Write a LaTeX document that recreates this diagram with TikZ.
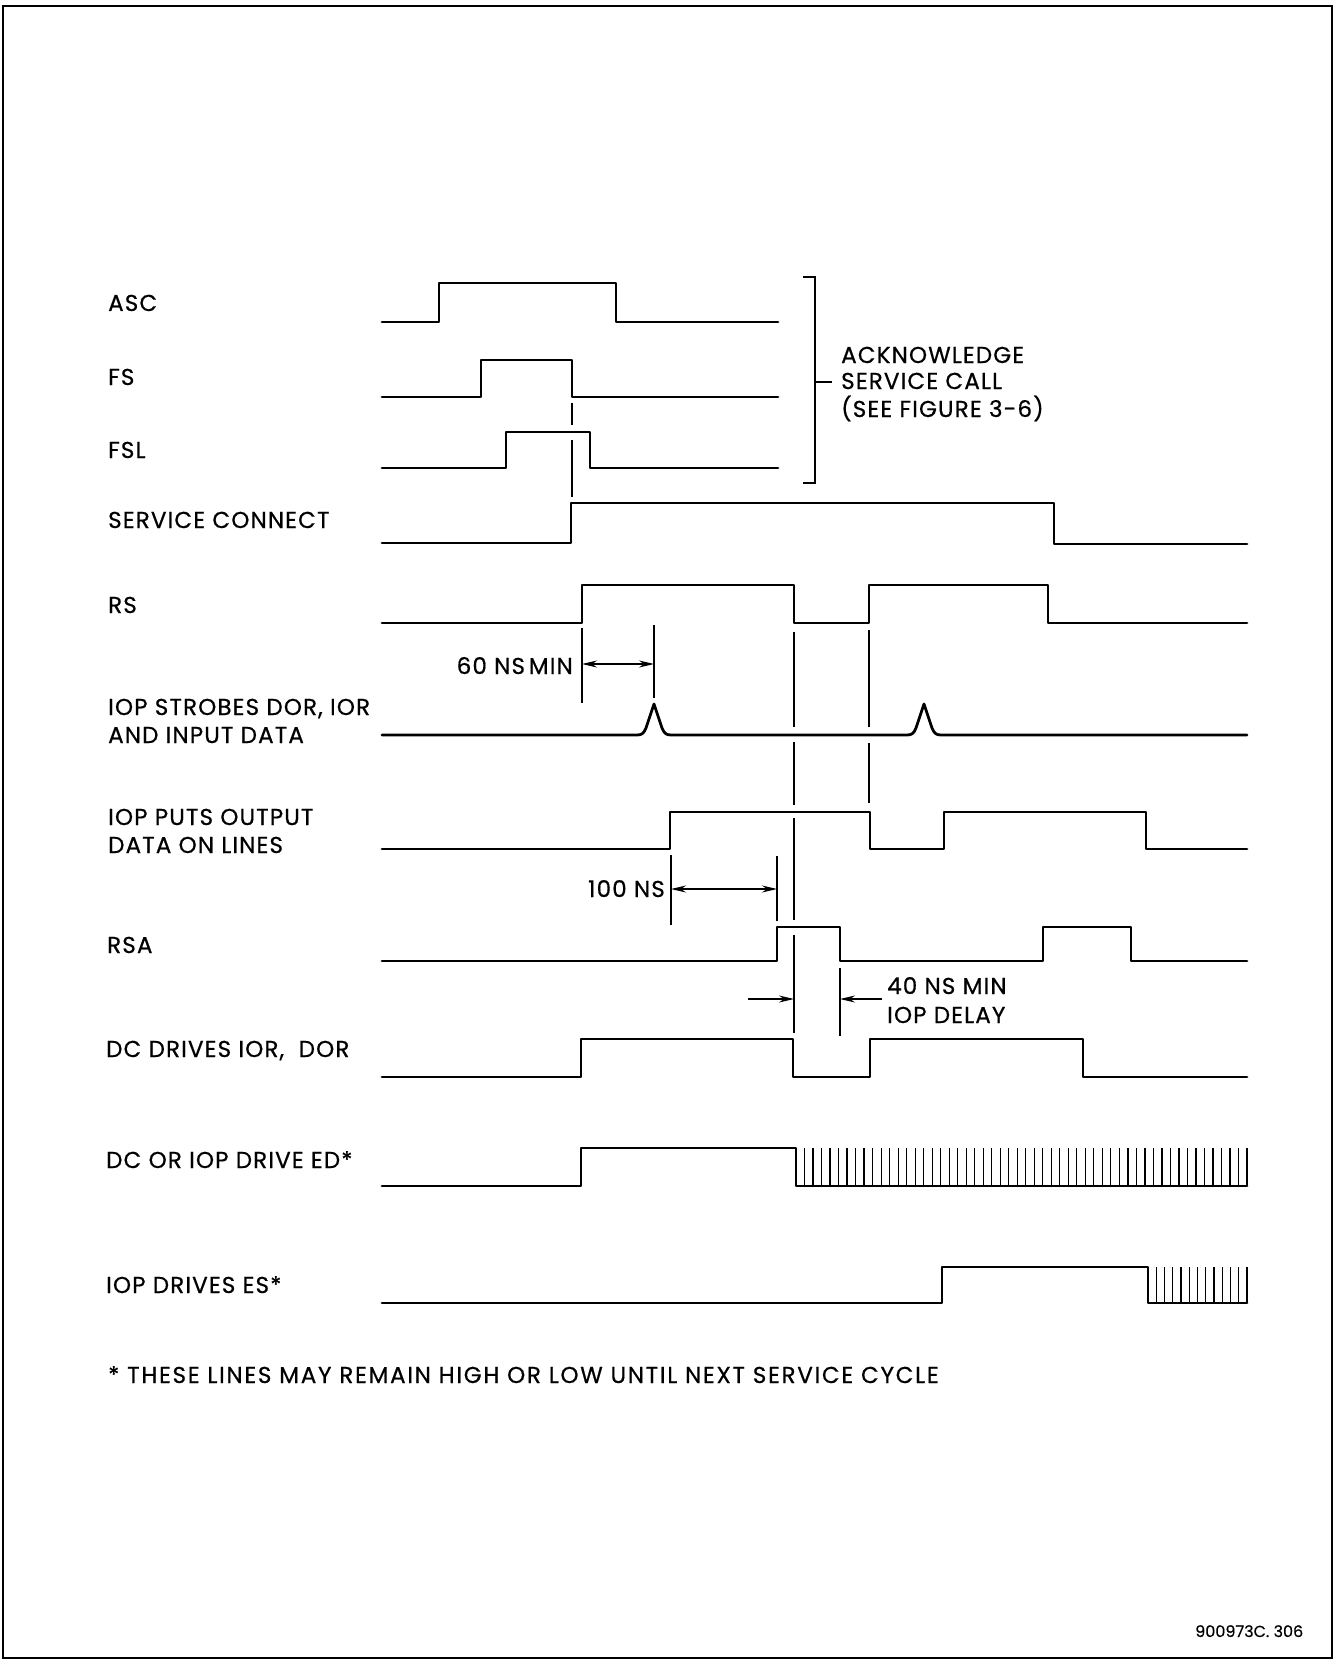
\documentclass[tikz,border=0pt]{standalone}
\usepackage{fontspec}
\setmainfont{Poppins}
\newfontfamily\lblff{Poppins}[FakeBold=0.6, LetterSpace=5]
\newfontfamily\noteff{Poppins}[FakeBold=0.6, LetterSpace=7.5]
\newfontfamily\numff{Poppins}[FakeBold=0.4]
\usetikzlibrary{arrows.meta}
\newcommand{\lblfont}{\lblff\fontsize{23}{27}\selectfont}
\newcommand{\notefont}{\noteff\fontsize{23}{27}\selectfont}
\newcommand{\smallfont}{\numff\fontsize{16}{19}\selectfont}
\tikzset{
  sig/.style={line width=2.8pt, line join=round, line cap=round},
  guide/.style={line width=1.3pt},
  hatchline/.style={line width=1.2pt},
  lbl/.style={font=\lblfont, anchor=base west, inner sep=0pt},
  lble/.style={font=\lblfont, anchor=base east, inner sep=0pt},
  dimtwo/.style={guide, {Stealth[length=15pt,width=7pt]}-{Stealth[length=15pt,width=7pt]}},
  dimone/.style={guide, -{Stealth[length=15pt,width=7pt]}},
  frame/.style={line width=2pt}
}
\begin{document}
\begin{tikzpicture}[x=1pt,y=-1pt]
\useasboundingbox (0,0) rectangle (1335,1661);
\draw[frame] (3,6) rectangle (1332,1658);

% labels
\node[lbl] (lASC) at (108,311) {ASC};
\node[lbl] (lFS) at (108,385) {FS};
\node[lbl] (lFSL) at (108,458) {FSL};
\node[lbl] (lSC) at (108,528) {SERVICE CONNECT};
\node[lbl] (lRS) at (108,613) {RS};
\node[lbl] (lST1) at (108,715) {IOP STROBES DOR, IOR};
\node[lbl] (lST2) at (108,743) {AND INPUT DATA};
\node[lbl] (lPU1) at (108,825) {IOP PUTS OUTPUT};
\node[lbl] (lPU2) at (108,853) {DATA ON LINES};
\node[lbl] (lRSA) at (107,953) {RSA};
\node[lbl] (lDC) at (106,1057) {DC DRIVES IOR,\ \ DOR};
\node[lbl] (lED) at (106,1168) {DC OR IOP DRIVE ED*};
\node[lbl] (lES) at (106,1293) {IOP DRIVES ES*};
\node[lbl, font=\notefont] (lNote) at (108,1383) {* THESE LINES MAY REMAIN HIGH OR LOW UNTIL NEXT SERVICE CYCLE};
\node[lbl, font=\smallfont] (lNum) at (1195,1637) {900973C. 306};

% bracket
\coordinate (bt) at (815,277);
\coordinate (bb) at (815,483);
\coordinate (bm) at (815,382);
\draw[guide] ([xshift=-12pt]bt) -- (bt) -- (bb) -- ([xshift=-12pt]bb);
\draw[guide] (bm) -- ++(17,0);
\node[lbl] (ack1) at (841,363) {ACKNOWLEDGE};
\node[lbl] (ack2) at (841,389) {SERVICE CALL};
\node[lbl] (ack3) at (841,417) {(SEE FIGURE 3-6)};

% signals
\draw[sig] (382,322) -- (439,322) -- (439,283) -- (616,283) -- (616,322) -- (778,322);
\draw[sig] (382,397) -- (481,397) -- (481,360) -- (572,360) -- (572,397) -- (778,397);
\draw[sig] (382,468) -- (506,468) -- (506,432) -- (590,432) -- (590,468) -- (778,468);
\draw[sig] (382,543) -- (571,543) -- (571,503) -- (1054,503) -- (1054,544) -- (1247,544);
\draw[sig] (382,623) -- (582,623) -- (582,585) -- (794,585) -- (794,623) -- (869,623) -- (869,585) -- (1048,585) -- (1048,623) -- (1247,623);
\draw[sig] (382,735) -- (637,735) .. controls (642,735) and (644,733) .. (646,728) -- (654,704) -- (662,728) .. controls (664,733) and (666,735) .. (671,735)
  -- (907,735) .. controls (912,735) and (914,733) .. (916,728) -- (924,704) -- (932,728) .. controls (934,733) and (936,735) .. (941,735) -- (1247,735);
\draw[sig] (382,849) -- (670,849) -- (670,812) -- (870,812) -- (870,849) -- (944,849) -- (944,812) -- (1146,812) -- (1146,849) -- (1247,849);
\draw[sig] (382,961) -- (777,961) -- (777,927) -- (840,927) -- (840,961) -- (1043,961) -- (1043,927) -- (1131,927) -- (1131,961) -- (1247,961);
\draw[sig] (382,1077) -- (581,1077) -- (581,1039) -- (793,1039) -- (793,1077) -- (870,1077) -- (870,1039) -- (1083,1039) -- (1083,1077) -- (1247,1077);
\draw[sig] (382,1186) -- (581,1186) -- (581,1148) -- (796,1148) -- (796,1186) -- (1247,1186);
\foreach \i in {1,...,53} \draw[hatchline] (796+\i*8.51,1186) -- (796+\i*8.51,1148);
\draw[sig] (382,1303) -- (942,1303) -- (942,1267) -- (1148,1267) -- (1148,1303) -- (1247,1303);
\foreach \i in {1,...,12} \draw[hatchline] (1148+\i*8.25,1303) -- (1148+\i*8.25,1267);

% timing guides
\draw[guide] (572,403) -- (572,425);
\draw[guide] (572,440) -- (572,497);
\draw[guide] (582,628) -- (582,703);
\draw[guide] (654,625) -- (654,698);
\coordinate (d60a) at (582,664);
\coordinate (d60b) at (654,664);
\draw[dimtwo] (d60a) -- (d60b);
\node[lble] (t60) at (573,674) {60 NS\,MIN};

\draw[guide] (794,632) -- (794,727);
\draw[guide] (794,742) -- (794,805);
\draw[guide] (794,818) -- (794,920);
\draw[guide] (794,935) -- (794,1033);
\draw[guide] (869,630) -- (869,727);
\draw[guide] (869,743) -- (869,803);

\draw[guide] (671,855) -- (671,925);
\draw[guide] (777,856) -- (777,921);
\coordinate (d100a) at (671,889);
\coordinate (d100b) at (777,889);
\draw[dimtwo] (d100a) -- (d100b);
\node[lble] (t100) at (665,897) {100 NS};

\draw[guide] (840,968) -- (840,1036);
\coordinate (d40a) at (748,999);
\coordinate (d40b) at (794,999);
\coordinate (d40c) at (882,999);
\coordinate (d40d) at (840,999);
\draw[dimone] (d40a) -- (d40b);
\draw[dimone] (d40c) -- (d40d);
\node[lbl] (t40a) at (887,994) {40 NS MIN};
\node[lbl] (t40b) at (887,1023) {IOP DELAY};
\end{tikzpicture}
\end{document}
